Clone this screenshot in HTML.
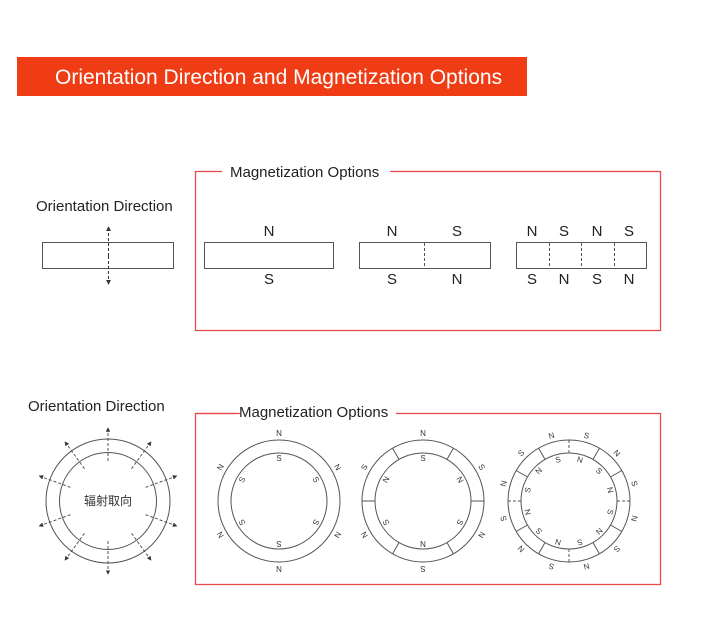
<!DOCTYPE html>
<html><head><meta charset="utf-8"><style>
body{margin:0;background:#fff;}
svg{display:block;font-family:"Liberation Sans","Noto Sans CJK SC",sans-serif;}
</style></head><body>
<svg width="705" height="618" viewBox="0 0 705 618">
<defs>
<marker id="ah" viewBox="0 0 6 6" refX="5" refY="3" markerWidth="5" markerHeight="5" orient="auto"><path d="M0,0 L6,3 L0,6 z" fill="#333"/></marker>
</defs>
<rect x="17" y="57" width="510" height="39" fill="#f03c14"/>
<text x="55" y="84" fill="#fff" font-size="21">Orientation Direction and Magnetization Options</text>

<!-- top box -->
<rect x="195.5" y="171.5" width="465" height="159" fill="none" stroke="#e64b4b" stroke-width="1.3"/>
<rect x="222" y="160" width="168" height="22" fill="#fff"/>
<text x="230" y="177" font-size="15" fill="#222">Magnetization Options</text>
<text x="36" y="211" font-size="15" fill="#222">Orientation Direction</text>

<g fill="none" stroke="#555" stroke-width="1">
<rect x="42.5" y="242.5" width="131" height="26"/>
<rect x="204.5" y="242.5" width="129" height="26"/>
<rect x="359.5" y="242.5" width="131" height="26"/>
<rect x="516.5" y="242.5" width="130" height="26"/>
</g>
<g stroke="#555" stroke-dasharray="3,2">
<line x1="424.5" y1="243" x2="424.5" y2="268"/>
<line x1="549.5" y1="243" x2="549.5" y2="268"/>
<line x1="581.5" y1="243" x2="581.5" y2="268"/>
<line x1="614.5" y1="243" x2="614.5" y2="268"/>
</g>
<line x1="108.5" y1="256" x2="108.5" y2="227" stroke="#333" stroke-dasharray="3,2" marker-end="url(#ah)"/>
<line x1="108.5" y1="256" x2="108.5" y2="284" stroke="#333" stroke-dasharray="3,2" marker-end="url(#ah)"/>
<g font-size="15" fill="#222" text-anchor="middle">
<text x="269" y="236">N</text><text x="269" y="284">S</text>
<text x="392" y="236">N</text><text x="457" y="236">S</text>
<text x="392" y="284">S</text><text x="457" y="284">N</text>
<text x="532" y="236">N</text><text x="564" y="236">S</text><text x="597" y="236">N</text><text x="629" y="236">S</text>
<text x="532" y="284">S</text><text x="564" y="284">N</text><text x="597" y="284">S</text><text x="629" y="284">N</text>
</g>

<!-- bottom box -->
<rect x="195.5" y="413.5" width="465" height="171" fill="none" stroke="#e64b4b" stroke-width="1.3"/>
<rect x="236" y="402" width="160" height="20" fill="#fff"/>
<line x1="195" y1="413.5" x2="240" y2="413.5" stroke="#e64b4b" stroke-width="1.3"/>
<text x="239" y="417" font-size="15" fill="#222">Magnetization Options</text>
<text x="28" y="411" font-size="15" fill="#222">Orientation Direction</text>

<!-- left ring -->
<g fill="none" stroke="#555">
<circle cx="108" cy="501" r="62"/><circle cx="108" cy="501" r="48.5"/>
</g>
<g stroke="#444" stroke-dasharray="3,2" stroke-width="0.9">
<line x1="108" y1="461" x2="108" y2="428" marker-end="url(#ah)"/>
<line x1="108" y1="461" x2="108" y2="428" marker-end="url(#ah)" transform="rotate(36 108 501)"/>
<line x1="108" y1="461" x2="108" y2="428" marker-end="url(#ah)" transform="rotate(70 108 501)"/>
<line x1="108" y1="461" x2="108" y2="428" marker-end="url(#ah)" transform="rotate(110 108 501)"/>
<line x1="108" y1="461" x2="108" y2="428" marker-end="url(#ah)" transform="rotate(144 108 501)"/>
<line x1="108" y1="461" x2="108" y2="428" marker-end="url(#ah)" transform="rotate(180 108 501)"/>
<line x1="108" y1="461" x2="108" y2="428" marker-end="url(#ah)" transform="rotate(-36 108 501)"/>
<line x1="108" y1="461" x2="108" y2="428" marker-end="url(#ah)" transform="rotate(-70 108 501)"/>
<line x1="108" y1="461" x2="108" y2="428" marker-end="url(#ah)" transform="rotate(-110 108 501)"/>
<line x1="108" y1="461" x2="108" y2="428" marker-end="url(#ah)" transform="rotate(-144 108 501)"/>
</g>
<text x="108" y="505" font-size="12" text-anchor="middle" fill="#333">辐射取向</text>

<!-- ring 2 -->
<g fill="none" stroke="#555"><circle cx="279" cy="501" r="61"/><circle cx="279" cy="501" r="48"/></g>
<g font-size="8" fill="#333" text-anchor="middle">
<text x="279" y="436" transform="rotate(0 279 501)">N</text>
<text x="279" y="436" transform="rotate(60 279 501)">N</text>
<text x="279" y="436" transform="rotate(120 279 501)">N</text>
<text x="279" y="436" transform="rotate(180 279 501)">N</text>
<text x="279" y="436" transform="rotate(240 279 501)">N</text>
<text x="279" y="436" transform="rotate(300 279 501)">N</text>
<text x="279" y="461" transform="rotate(0 279 501)">S</text>
<text x="279" y="461" transform="rotate(60 279 501)">S</text>
<text x="279" y="461" transform="rotate(120 279 501)">S</text>
<text x="279" y="461" transform="rotate(180 279 501)">S</text>
<text x="279" y="461" transform="rotate(240 279 501)">S</text>
<text x="279" y="461" transform="rotate(300 279 501)">S</text>
</g>

<!-- ring 3 -->
<g fill="none" stroke="#555"><circle cx="423" cy="501" r="61"/><circle cx="423" cy="501" r="48"/></g>
<g stroke="#555">
<line x1="423" y1="440" x2="423" y2="453" transform="rotate(30 423 501)"/>
<line x1="423" y1="440" x2="423" y2="453" transform="rotate(90 423 501)"/>
<line x1="423" y1="440" x2="423" y2="453" transform="rotate(150 423 501)"/>
<line x1="423" y1="440" x2="423" y2="453" transform="rotate(210 423 501)"/>
<line x1="423" y1="440" x2="423" y2="453" transform="rotate(270 423 501)"/>
<line x1="423" y1="440" x2="423" y2="453" transform="rotate(330 423 501)"/>
</g>
<g font-size="8" fill="#333" text-anchor="middle">
<text x="423" y="436" transform="rotate(0 423 501)">N</text>
<text x="423" y="436" transform="rotate(60 423 501)">S</text>
<text x="423" y="436" transform="rotate(120 423 501)">N</text>
<text x="423" y="436" transform="rotate(180 423 501)">S</text>
<text x="423" y="436" transform="rotate(240 423 501)">N</text>
<text x="423" y="436" transform="rotate(300 423 501)">S</text>
<text x="423" y="461" transform="rotate(0 423 501)">S</text>
<text x="423" y="461" transform="rotate(60 423 501)">N</text>
<text x="423" y="461" transform="rotate(120 423 501)">S</text>
<text x="423" y="461" transform="rotate(180 423 501)">N</text>
<text x="423" y="461" transform="rotate(240 423 501)">S</text>
<text x="423" y="461" transform="rotate(300 423 501)">N</text>
</g>

<!-- ring 4 -->
<g fill="none" stroke="#555"><circle cx="569" cy="501" r="61"/><circle cx="569" cy="501" r="48"/></g>
<g stroke="#555">
<line x1="569" y1="440" x2="569" y2="453" transform="rotate(0 569 501)" stroke-dasharray="3,2"/>
<line x1="569" y1="440" x2="569" y2="453" transform="rotate(30 569 501)"/>
<line x1="569" y1="440" x2="569" y2="453" transform="rotate(60 569 501)"/>
<line x1="569" y1="440" x2="569" y2="453" transform="rotate(90 569 501)" stroke-dasharray="3,2"/>
<line x1="569" y1="440" x2="569" y2="453" transform="rotate(120 569 501)"/>
<line x1="569" y1="440" x2="569" y2="453" transform="rotate(150 569 501)"/>
<line x1="569" y1="440" x2="569" y2="453" transform="rotate(180 569 501)" stroke-dasharray="3,2"/>
<line x1="569" y1="440" x2="569" y2="453" transform="rotate(210 569 501)"/>
<line x1="569" y1="440" x2="569" y2="453" transform="rotate(240 569 501)"/>
<line x1="569" y1="440" x2="569" y2="453" transform="rotate(270 569 501)" stroke-dasharray="3,2"/>
<line x1="569" y1="440" x2="569" y2="453" transform="rotate(300 569 501)"/>
<line x1="569" y1="440" x2="569" y2="453" transform="rotate(330 569 501)"/>
</g>
<g font-size="8" fill="#333" text-anchor="middle">
<text x="569" y="436" transform="rotate(-15 569 501)">N</text>
<text x="569" y="436" transform="rotate(15 569 501)">S</text>
<text x="569" y="436" transform="rotate(45 569 501)">N</text>
<text x="569" y="436" transform="rotate(75 569 501)">S</text>
<text x="569" y="436" transform="rotate(105 569 501)">N</text>
<text x="569" y="436" transform="rotate(135 569 501)">S</text>
<text x="569" y="436" transform="rotate(165 569 501)">N</text>
<text x="569" y="436" transform="rotate(195 569 501)">S</text>
<text x="569" y="436" transform="rotate(225 569 501)">N</text>
<text x="569" y="436" transform="rotate(255 569 501)">S</text>
<text x="569" y="436" transform="rotate(285 569 501)">N</text>
<text x="569" y="436" transform="rotate(315 569 501)">S</text>
<text x="569" y="461" transform="rotate(-15 569 501)">S</text>
<text x="569" y="461" transform="rotate(15 569 501)">N</text>
<text x="569" y="461" transform="rotate(45 569 501)">S</text>
<text x="569" y="461" transform="rotate(75 569 501)">N</text>
<text x="569" y="461" transform="rotate(105 569 501)">S</text>
<text x="569" y="461" transform="rotate(135 569 501)">N</text>
<text x="569" y="461" transform="rotate(165 569 501)">S</text>
<text x="569" y="461" transform="rotate(195 569 501)">N</text>
<text x="569" y="461" transform="rotate(225 569 501)">S</text>
<text x="569" y="461" transform="rotate(255 569 501)">N</text>
<text x="569" y="461" transform="rotate(285 569 501)">S</text>
<text x="569" y="461" transform="rotate(315 569 501)">N</text>
</g>
</svg>
</body></html>
